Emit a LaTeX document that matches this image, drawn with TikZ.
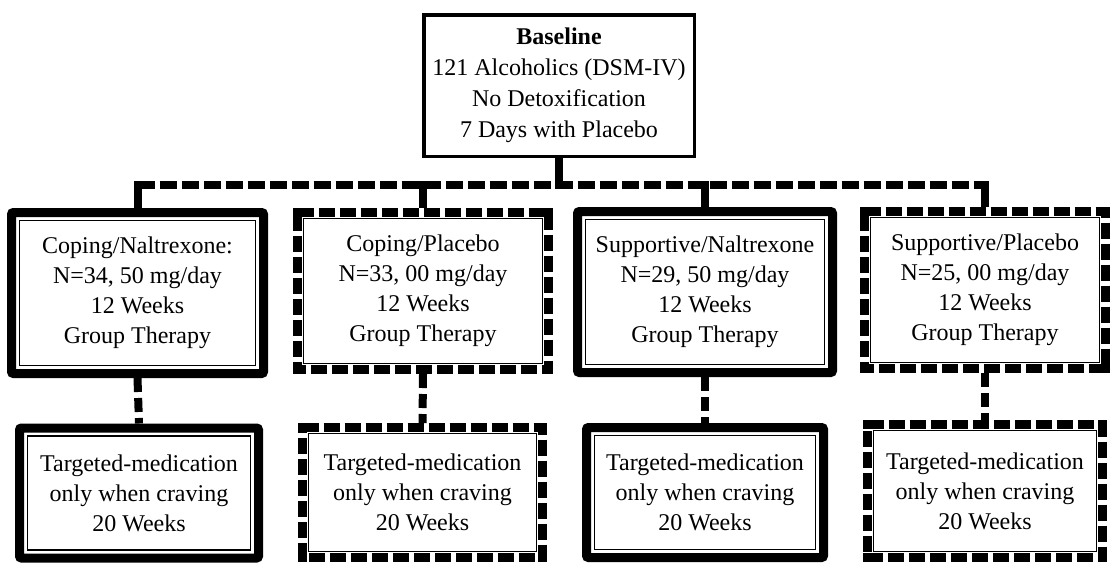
\documentclass[tikz,border=0pt]{standalone}
\usepackage{fontspec}
\setmainfont{Liberation Serif}
\begin{document}
\begin{tikzpicture}[x=1pt,y=-1pt]
\tikzset{
 txt/.style={align=center, font=\fontsize{24}{30}\selectfont, inner sep=0pt, outer sep=0pt},
 solidband/.style={line width=9pt, rounded corners=2pt},
 thinline/.style={line width=1.2pt},
 dashband/.style={line width=9pt, dash pattern=on 16pt off 5pt},
 topframe/.style={draw, line width=3.5pt},
 hline/.style={line width=8pt, dash pattern=on 17pt off 5pt},
 stemline/.style={line width=8pt},
 vdash/.style={line width=8pt, dash pattern=on 14pt off 6pt},
}
\newcommand\solidframe[1]{%
 \draw[solidband] ([shift={(4.5,4.5)}]#1.north west) rectangle ([shift={(-4.5,-4.5)}]#1.south east);
 \draw[thinline] ([shift={(12.5,12.5)}]#1.north west) rectangle ([shift={(-12.5,-12.5)}]#1.south east);}
\newcommand\dashframe[1]{%
 \draw[dashband] ([shift={(4.5,4.5)}]#1.north west) -- ([shift={(-4.5,4.5)}]#1.north east) -- ([shift={(-4.5,-4.5)}]#1.south east) -- ([shift={(4.5,-4.5)}]#1.south west) -- cycle;
 \fill ([shift={(0,0)}]#1.north west) rectangle ([shift={(9,9)}]#1.north west);
 \fill ([shift={(0,0)}]#1.north east) rectangle ([shift={(-9,9)}]#1.north east);
 \fill ([shift={(0,0)}]#1.south west) rectangle ([shift={(9,-9)}]#1.south west);
 \fill ([shift={(0,0)}]#1.south east) rectangle ([shift={(-9,-9)}]#1.south east);
 \draw[thinline] ([shift={(10.5,10.5)}]#1.north west) rectangle ([shift={(-10.5,-10.5)}]#1.south east);}
\useasboundingbox (0,0) rectangle (1110,563);
\fill[white] (0,0) rectangle (1110,563);
% top box
\node[txt, topframe, minimum width=270.5pt, minimum height=141.5pt, font=\fontsize{24}{31}\selectfont] (top) at (559,85.5)
 {\textbf{Baseline}\\121 Alcoholics (DSM-IV)\\No Detoxification\\7 Days with Placebo};
% middle row
\node[txt, minimum width=261pt, minimum height=170pt] (b1) at (137.5,293)
 {Coping/Naltrexone:\\N=34, 50 mg/day\\12 Weeks\\Group Therapy};
\node[txt, minimum width=260pt, minimum height=166pt] (b2) at (423,291)
 {Coping/Placebo\\N=33, 00 mg/day\\12 Weeks\\Group Therapy};
\node[txt, minimum width=264pt, minimum height=170pt] (b3) at (705,292)
 {Supportive/Naltrexone\\N=29, 50 mg/day\\12 Weeks\\Group Therapy};
\node[txt, minimum width=250pt, minimum height=166pt] (b4) at (985,290)
 {Supportive/Placebo\\N=25, 00 mg/day\\12 Weeks\\Group Therapy};
% bottom row
\node[txt, minimum width=248pt, minimum height=139pt] (c1) at (139,493)
 {Targeted-medication\\only when craving\\20 Weeks};
\node[txt, minimum width=249pt, minimum height=139pt] (c2) at (422.5,492.5)
 {Targeted-medication\\only when craving\\20 Weeks};
\node[txt, minimum width=246pt, minimum height=139pt] (c3) at (705,492.5)
 {Targeted-medication\\only when craving\\20 Weeks};
\node[txt, minimum width=244pt, minimum height=142pt] (c4) at (985,491)
 {Targeted-medication\\only when craving\\20 Weeks};
\solidframe{b1}\dashframe{b2}\solidframe{b3}\dashframe{b4}
\solidframe{c1}\dashframe{c2}\solidframe{c3}\dashframe{c4}
% connectors
\coordinate (hl) at (b1.north |- 0,185);
\coordinate (hr) at (b4.north |- 0,185);
\draw[stemline] (top.south) -- (top.south |- 0,189);
\draw[hline] (hl) -- (hr);
\foreach \b in {b1,b2,b3,b4} {\draw[stemline] (\b.north |- 0,181) -- (\b.north);}
\draw[vdash] (b1.south) -- (c1.north);
\draw[vdash] (b2.south) -- (c2.north);
\draw[vdash] (b3.south) -- (c3.north);
\draw[vdash] (b4.south) -- (c4.north);
\end{tikzpicture}
\end{document}
